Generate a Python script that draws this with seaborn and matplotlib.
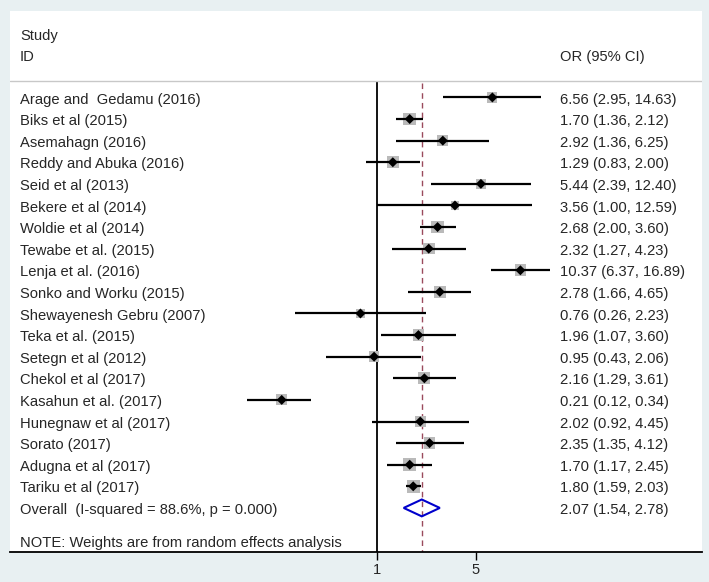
import numpy as np
import pandas as pd
import matplotlib
matplotlib.use("Agg")
import matplotlib.pyplot as plt
import seaborn as sns

# datos del forest plot
studies = ["Arage and  Gedamu (2016)", "Biks et al (2015)", "Asemahagn (2016)",
           "Reddy and Abuka (2016)", "Seid et al (2013)", "Bekere et al (2014)",
           "Woldie et al (2014)", "Tewabe et al. (2015)", "Lenja et al. (2016)",
           "Sonko and Worku (2015)", "Shewayenesh Gebru (2007)", "Teka et al. (2015)",
           "Setegn et al (2012)", "Chekol et al (2017)", "Kasahun et al. (2017)",
           "Hunegnaw et al (2017)", "Sorato (2017)", "Adugna et al (2017)",
           "Tariku et al (2017)"]
or_vals = [6.56, 1.70, 2.92, 1.29, 5.44, 3.56, 2.68, 2.32, 10.37, 2.78,
           0.76, 1.96, 0.95, 2.16, 0.21, 2.02, 2.35, 1.70, 1.80]
ci_low = [2.95, 1.36, 1.36, 0.83, 2.39, 1.00, 2.00, 1.27, 6.37, 1.66,
          0.26, 1.07, 0.43, 1.29, 0.12, 0.92, 1.35, 1.17, 1.59]
ci_high = [14.63, 2.12, 6.25, 2.00, 12.40, 12.59, 3.60, 4.23, 16.89, 4.65,
           2.23, 3.60, 2.06, 3.61, 0.34, 4.45, 4.12, 2.45, 2.03]
weights = [4.0, 6.0, 4.5, 5.5, 4.2, 3.0, 5.8, 5.2, 5.3, 5.4,
           3.5, 5.0, 4.2, 5.4, 4.8, 4.5, 5.3, 6.0, 6.5]
overall_label = "Overall  (I-squared = 88.6%, p = 0.000)"
overall_or, overall_low, overall_high = 2.07, 1.54, 2.78
ticks = [1, 5]

df = pd.DataFrame({"Study": studies, "OR": or_vals, "Lo": ci_low, "Hi": ci_high, "W": weights})
df["fila"] = np.arange(len(df))
df["texto"] = [f"{o:.2f} ({l:.2f}, {h:.2f})" for o, l, h in zip(df.OR, df.Lo, df.Hi)]
fila_overall = len(df)

sns.set_style("white")
plt.rcParams['font.family'] = ['Liberation Sans', 'DejaVu Sans']

W, H, DPI = 709, 582, 100
fig = plt.figure(figsize=(W / DPI, H / DPI), dpi=DPI)
fig.patch.set_facecolor("#e8f0f2")
ax = fig.add_axes([10 / W, (H - 552) / H, 692 / W, (552 - 11) / H])
ax.set_facecolor("white")

ax.set_xscale("log")
ax.set_xlim(np.exp(-6.0), np.exp(5.306))
ax.set_ylim(21.04, -4.0)

# lineas verticales
ax.vlines(1, -0.76, 21.04, color="black", lw=1.3, zorder=2)
ax.vlines(overall_or, -0.69, 21.04, color="#9a4a5c", lw=1.0, linestyles=(0, (4, 3)), zorder=2)

# cuadrados de peso
lado_px = 5.1 * np.sqrt(df["W"])
sns.scatterplot(x=df["OR"], y=df["fila"], marker="s", s=(lado_px * 72 / DPI) ** 2,
                color="#bababa", edgecolor="none", ax=ax, zorder=3, legend=False)
ax.hlines(df["fila"], df["Lo"], df["Hi"], color="black", lw=1.6, zorder=4)
sns.scatterplot(x=df["OR"], y=df["fila"], marker="D", s=26, color="black",
                edgecolor="none", ax=ax, zorder=5, legend=False)

# diamante global
h = 0.39
ax.fill([overall_low, overall_or, overall_high, overall_or],
        [fila_overall, fila_overall - h, fila_overall, fila_overall + h],
        facecolor="none", edgecolor="#0000cc", lw=1.5, zorder=5)

# textos
tr = ax.get_yaxis_transform()
fs = 10.6
dy = 0.1
for _, r in df.iterrows():
    ax.text(0.0145, r["fila"] + dy, r["Study"], transform=tr, va="center", fontsize=fs)
    ax.text(0.795, r["fila"] + dy, r["texto"], transform=tr, va="center", fontsize=fs)
ax.text(0.0145, fila_overall + dy, overall_label, transform=tr, va="center", fontsize=fs)
ax.text(0.795, fila_overall + dy, f"{overall_or:.2f} ({overall_low:.2f}, {overall_high:.2f})",
        transform=tr, va="center", fontsize=fs)
ax.text(0.0145, -2.94 + dy, "Study", transform=tr, va="center", fontsize=fs)
ax.text(0.0145, -1.97 + dy, "ID", transform=tr, va="center", fontsize=fs)
ax.text(0.795, -1.97 + dy, "OR (95% CI)", transform=tr, va="center", fontsize=fs)
ax.text(0.0145, 20.53 + dy, "NOTE: Weights are from random effects analysis",
        transform=tr, va="center", fontsize=fs)
ax.axhline(-0.76, color="#c8c8c8", lw=1.0)

# ejes
for s in ["top", "left", "right"]:
    ax.spines[s].set_visible(False)
ax.spines["bottom"].set_color("black")
ax.spines["bottom"].set_linewidth(1.3)
ax.set_yticks([])
ax.set_xticks(ticks)
ax.set_xticklabels([str(t) for t in ticks], fontsize=fs)
ax.minorticks_off()
ax.tick_params(axis="x", direction="out", length=6, width=1, color="black", pad=2, bottom=True)
ax.set_xlabel("")
ax.set_ylabel("")

fig.savefig("out.png", dpi=DPI, facecolor=fig.get_facecolor())
